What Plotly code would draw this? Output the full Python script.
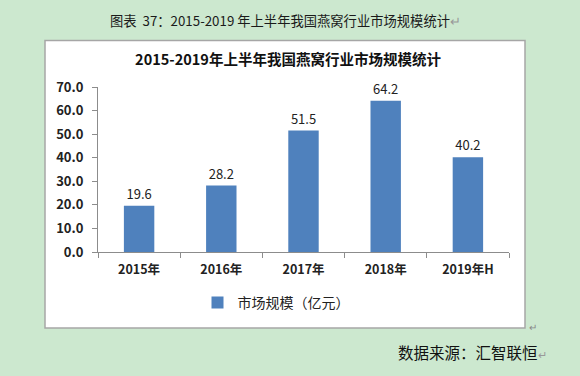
import plotly.graph_objects as go

categories = ["2015年", "2016年", "2017年", "2018年", "2019年H"]
values = [19.6, 28.2, 51.5, 64.2, 40.2]
series_name = "市场规模（亿元）"
chart_title = "2015-2019年上半年我国燕窝行业市场规模统计"
header_text = "图表  37：2015-2019 年上半年我国燕窝行业市场规模统计"
source_text = "数据来源：汇智联恒"

W, H = 580, 376
L, R, T, B = 98, 509, 87, 252  # plot area pixel bounds


def px_x(px):
    return (px - L) / (R - L)


def px_y(py):
    return (B - py) / (B - T)


FONT = "Noto Sans CJK SC"
BG = "#cce8cf"

fig = go.Figure()
fig.add_trace(go.Bar(
    x=categories, y=values, name=series_name,
    marker=dict(color="#4f81bd", line=dict(width=0)),
    text=[f"{v:.1f}" for v in values], textposition="outside",
    textfont=dict(family=FONT, size=13, color="#222222"),
    cliponaxis=False,
))

fig.update_layout(
    width=W, height=H,
    margin=dict(l=L, r=W - R, t=T, b=H - B),
    paper_bgcolor=BG, plot_bgcolor="white",
    bargap=0.63,
    showlegend=True,
    legend=dict(orientation="h", x=px_x(276), y=px_y(303), xanchor="center", yanchor="middle",
                font=dict(family=FONT, size=14, color="#222222"), bgcolor="rgba(0,0,0,0)",
                itemwidth=30),
    title=dict(text=chart_title, x=288 / W, y=1 - 60 / H, xref="container", yref="container",
               xanchor="center", yanchor="middle",
               font=dict(family=FONT, size=14.5, color="#111111", weight="bold")),
    xaxis=dict(showgrid=False, showline=True, linecolor="#8c8c8c", linewidth=1,
               ticks="outside", tickson="boundaries", ticklen=5, tickcolor="#8c8c8c",
               tickfont=dict(family=FONT, size=12.5, color="#222222", weight="bold"),
               ticklabelstandoff=6, fixedrange=True),
    yaxis=dict(range=[0, 70], dtick=10, tickformat=".1f", showgrid=False, zeroline=False,
               showline=True, linecolor="#8c8c8c", linewidth=1,
               ticks="outside", ticklen=5, tickcolor="#8c8c8c",
               tickfont=dict(family=FONT, size=13, color="#222222", weight="bold"),
               ticklabelstandoff=6, fixedrange=True),
    shapes=[dict(type="rect", xref="paper", yref="paper", layer="below",
                 x0=px_x(45), x1=px_x(525), y0=px_y(328), y1=px_y(40.5),
                 fillcolor="white", line=dict(color="#a6a6a6", width=1.5))],
    annotations=[
        dict(text=header_text + "<span style='color:#999999'>↵</span>", xref="paper", yref="paper",
             x=px_x(285), y=px_y(20), xanchor="center", yanchor="middle", showarrow=False,
             font=dict(family=FONT, size=13.3, color="#1a1a1a")),
        dict(text=source_text + "<span style='color:#999999;font-size:11px'>↵</span>", xref="paper", yref="paper",
             x=px_x(549), y=px_y(352), xanchor="right", yanchor="middle", showarrow=False,
             font=dict(family=FONT, size=15.5, color="#111111")),
        dict(text="↵", xref="paper", yref="paper", x=px_x(527), y=px_y(326),
             xanchor="left", yanchor="middle", showarrow=False,
             font=dict(family=FONT, size=10, color="#888888")),
    ],
)

fig.write_html("out.html", config={"displayModeBar": False},
               post_script="document.body.style.margin='0';document.body.style.background='%s';" % BG)
